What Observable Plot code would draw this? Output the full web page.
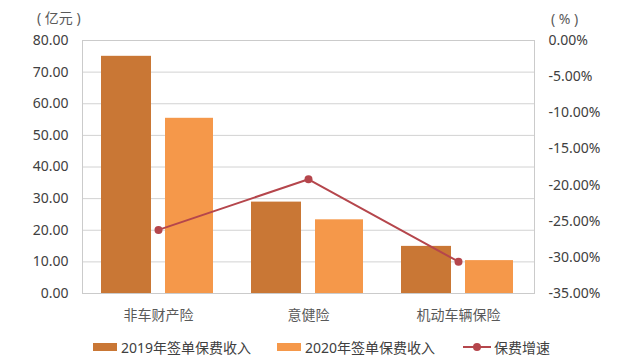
<!DOCTYPE html>
<html><head><meta charset="utf-8">
<script src="https://cdn.jsdelivr.net/npm/d3@7"></script>
<script src="https://cdn.jsdelivr.net/npm/@observablehq/plot@0.6"></script>
<style>
body{margin:0;background:#fff;font-family:"Noto Sans","Noto Sans CJK SC",sans-serif;}
#wrap{position:relative;width:630px;height:363px;}
.ttl{position:absolute;font-size:14px;color:#595959;white-space:pre;}
.leg{position:absolute;top:337px;display:flex;align-items:center;font-size:14px;color:#404040;}
.sw{width:24px;height:8px;margin-right:4px;}
</style></head>
<body><div id="wrap"></div>
<script>
const categories = ["非车财产险","意健险","机动车辆保险"];
const premium2019 = [75.0, 28.9, 14.9];
const premium2020 = [55.4, 23.3, 10.4];
const growthPct = [-26.2, -19.2, -30.6];
const leftTicks = [0,10,20,30,40,50,60,70,80];
const rightTicks = [0,-5,-10,-15,-20,-25,-30,-35];
const seriesNames = ["2019年签单保费收入","2020年签单保费收入","保费增速"];
const colors = ["#C97735","#F5984A","#B5464C"];

// map right-axis percent onto the left value scale (0..80 <-> -35..0)
const pctToY = p => (p + 35) / 35 * 80;
const yToPct = y => y * 35 / 80 - 35;

const rows = categories.map((c,i)=>({cat:c, a:premium2019[i], b:premium2020[i], g:pctToY(growthPct[i])}));
const font = `"Noto Sans","Noto Sans CJK SC",sans-serif`;

const chart = Plot.plot({
  width:630, height:330,
  marginLeft:82, marginRight:96, marginTop:40, marginBottom:37,
  style:{fontFamily:font, fontSize:"14px", color:"#404040", background:"#fff"},
  x:{type:"band", domain:categories, padding:0, axis:null},
  y:{domain:[0,80], axis:null},
  marks:[
    Plot.gridY(leftTicks,{stroke:"#d2d2d2", strokeOpacity:1}),
    Plot.barY(rows,{x:"cat", y:"a", fill:colors[0], insetLeft:18, insetRight:82}),
    Plot.barY(rows,{x:"cat", y:"b", fill:colors[1], insetLeft:82, insetRight:20}),
    Plot.line(rows,{x:"cat", y:"g", stroke:colors[2], strokeWidth:2}),
    Plot.dot(rows,{x:"cat", y:"g", fill:colors[2], r:4}),
    Plot.frame({stroke:"#cbcbcb"}),
    Plot.axisY(leftTicks,{anchor:"left", tickSize:0, tickPadding:14, tickFormat:d=>d.toFixed(2), label:null, fill:"#404040"}),
    Plot.axisY(rightTicks.map(pctToY),{anchor:"right", tickSize:0, tickPadding:14, tickFormat:d=>yToPct(d).toFixed(2)+"%", label:null, fill:"#404040"}),
    Plot.axisX(categories,{tickSize:0, tickPadding:17, label:null, fill:"#595959"})
  ]
});
const wrap = document.getElementById("wrap");
wrap.appendChild(chart);

const t1 = document.createElement("div"); t1.className="ttl"; t1.textContent="( 亿元 )"; t1.style.left="37px"; t1.style.top="7px"; wrap.appendChild(t1);
const t2 = document.createElement("div"); t2.className="ttl"; t2.textContent="( % )"; t2.style.left="551px"; t2.style.top="9px"; wrap.appendChild(t2);

const legLeft = [93, 277, 463];
seriesNames.forEach((n,i)=>{
  const d = document.createElement("div"); d.className="leg"; d.style.left=legLeft[i]+"px";
  if(i<2){
    d.innerHTML = `<span class="sw" style="background:${colors[i]}"></span>${n}`;
  } else {
    d.innerHTML = `<svg width="28" height="10" style="margin-right:3px"><line x1="0" x2="28" y1="5" y2="5" stroke="${colors[2]}" stroke-width="2"/><circle cx="14" cy="5" r="4" fill="${colors[2]}"/></svg>${n}`;
  }
  wrap.appendChild(d);
});
</script></body></html>
